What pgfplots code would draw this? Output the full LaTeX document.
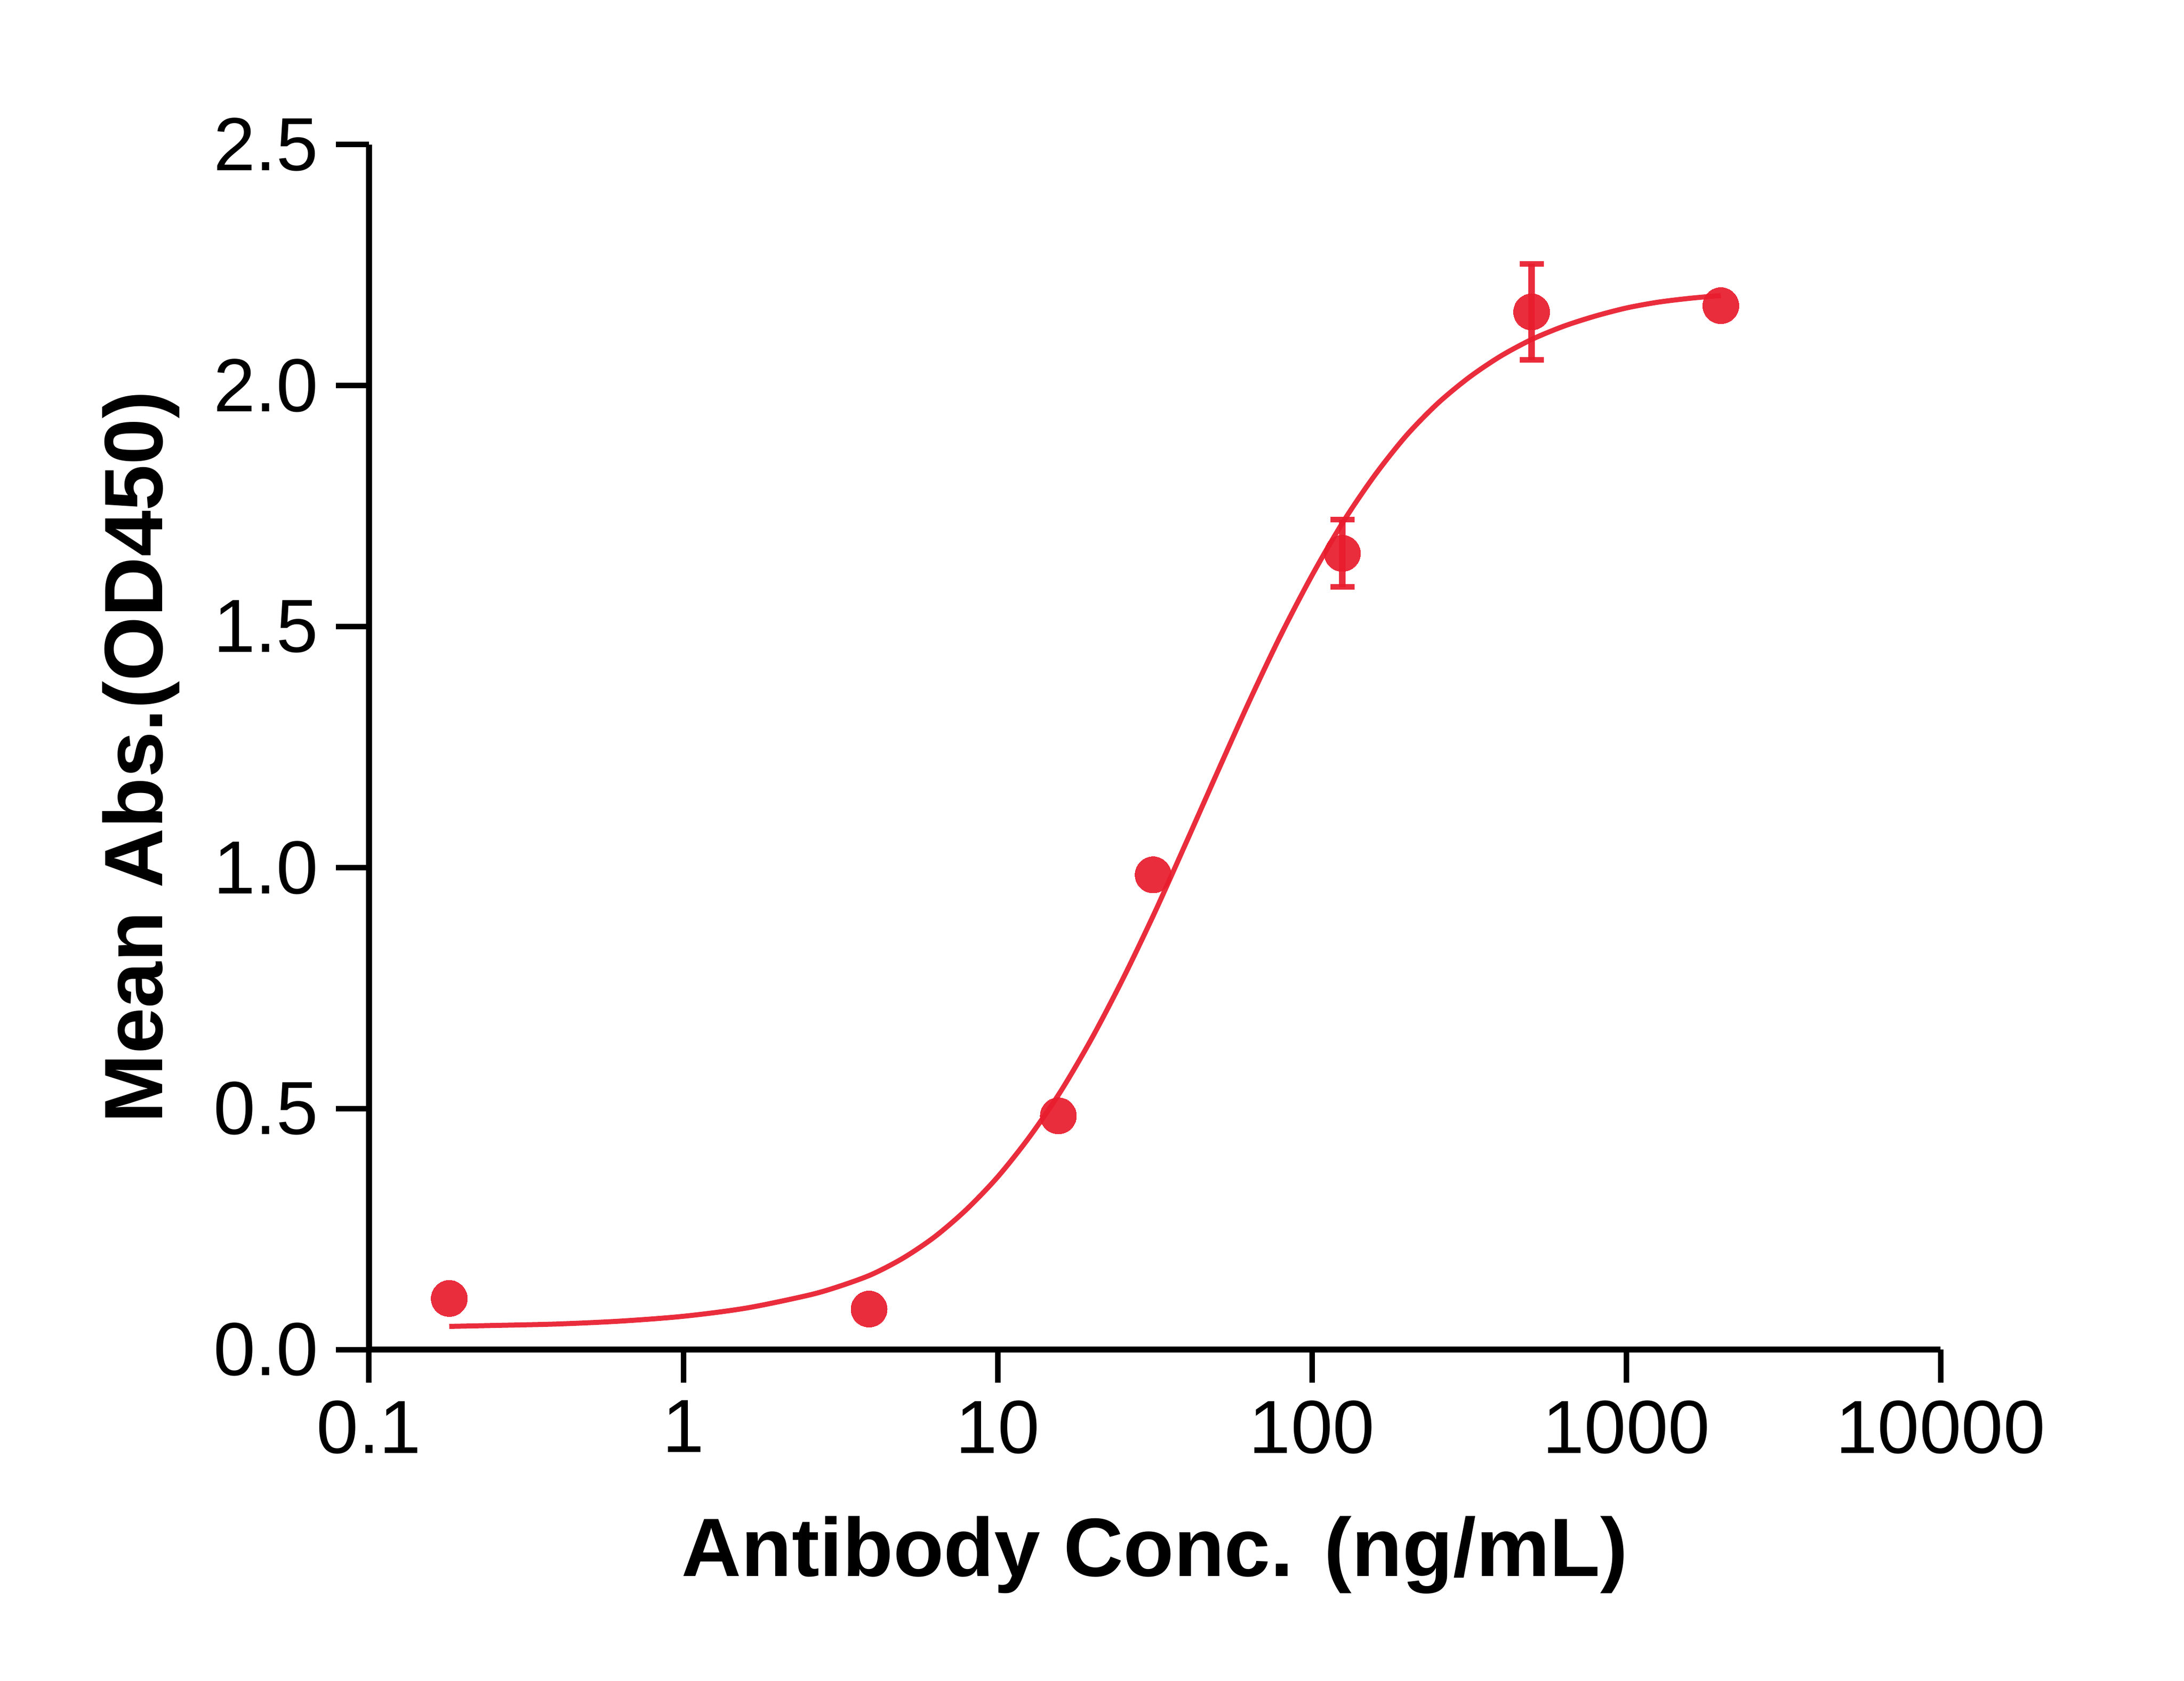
\documentclass[border=0pt]{standalone}
\usepackage{fontspec}
\setmainfont{Liberation Sans}
\usepackage{pgfplots}
\pgfplotsset{compat=1.18}
\definecolor{dotred}{RGB}{232,27,44}

\begin{document}
\begin{tikzpicture}
  % fixed page frame, 1px of the reference = 0.1pt
  \path (-73.5pt,-65.9pt) rectangle (361.5pt,268.7pt);
  \begin{axis}[
    at={(0,0)}, anchor=south west,
    scale only axis,
    width=313pt, height=239.9pt,
    xmode=log,
    xmin=0.1, xmax=10000,
    ymin=0, ymax=2.5,
    axis lines=left,
    axis line style={-, line width=1.2pt},
    every tick/.style={black, line width=1.1pt},
    tick align=outside,
    major tick length=6.6pt,
    xminorticks=false,
    xtick={0.1,1,10,100,1000,10000},
    xticklabels={0.1,1,10,100,1000,10000},
    ytick={0,0.5,1,1.5,2,2.5},
    yticklabels={0.0,0.5,1.0,1.5,2.0,2.5},
    tick label style={font=\fontsize{15}{18}\selectfont},
    xlabel={Antibody Conc. (ng/mL)},
    ylabel={Mean Abs.(OD450)},
    xlabel style={font=\fontsize{16.5}{19}\selectfont\bfseries,
      at={(axis description cs:0.5,0)}, anchor=north, inner sep=0pt,
      yshift=-33pt},
    ylabel style={font=\fontsize{16.5}{19}\selectfont\bfseries,
      at={(axis description cs:-0.1703,0.4917)}, anchor=north, inner sep=0pt},
    clip=false,
  ]
    % fitted 4PL curve
    \addplot [dotred, line width=1pt, smooth, opacity=0.92] coordinates {
      (0.18,0.048) (0.2512,0.050) (0.3981,0.053) (0.6310,0.059)
      (1,0.069) (1.585,0.086) (2.512,0.113) (3.162,0.132)
      (3.981,0.156) (5.012,0.190) (6.310,0.234) (7.943,0.290)
      (10,0.358) (12.59,0.440) (15.85,0.535) (19.95,0.646)
      (25.12,0.771) (31.62,0.907) (39.81,1.052) (50.12,1.199)
      (63.10,1.344) (79.43,1.481) (100,1.606) (125.9,1.718)
      (158.5,1.814) (199.5,1.896) (251.2,1.963) (316.2,2.017)
      (398.1,2.061) (501.2,2.096) (631.0,2.123) (794.3,2.144)
      (1000,2.161) (1259,2.173) (1585,2.181) (2000,2.187)
    };
    % measured means
    \addplot [dotred, only marks, mark=*, mark size=3.6pt,
      mark options={draw=dotred, line width=0pt, fill=dotred, opacity=0.92}]
      coordinates {
      (0.18,0.106) (3.9,0.084) (15.6,0.485) (31.25,0.985) (2000,2.166)
    };
    % means with SD
    \addplot [dotred, only marks, mark=*, mark size=3.6pt,
      mark options={draw=dotred, line width=0pt, fill=dotred, opacity=0.92},
      error bars/.cd, y dir=both, y explicit,
      error bar style={dotred, line width=1.3pt, opacity=0.92},
      error mark options={dotred, rotate=90, mark size=2.4pt, line width=1.1pt}]
      coordinates {
      (125,1.652) +- (0,0.07)
      (500,2.153) +- (0,0.10)
    };
  \end{axis}
\end{tikzpicture}
\end{document}
